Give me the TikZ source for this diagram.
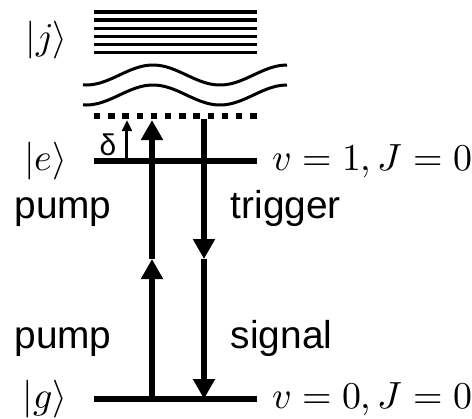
\documentclass[tikz,border=0pt]{standalone}
\usepackage{fontspec}
\setsansfont{Liberation Sans}
\usepackage{unicode-math}
\setmathfont{Latin Modern Math}
\usetikzlibrary{arrows.meta, positioning}

\begin{document}
\begin{tikzpicture}[
  x=0.25bp, y=-0.25bp,
  level/.style={line width=1.5bp},
  band/.style={line width=0.85bp},
  wave/.style={line width=0.75bp},
  virt/.style={line width=1.6bp, dash pattern=on 1.6bp off 1.95bp},
  beam/.style={line width=1.6bp, -{Triangle[length=5bp, width=5.25bp]}},
  detune/.style={line width=0.75bp, -{Triangle[length=2.75bp, width=2.4bp]}},
  state/.style={inner sep=0pt, font=\fontsize{9.5}{11}\selectfont},
  word/.style={inner sep=0pt, font=\sffamily\fontsize{9.75}{12}\selectfont}
]
\useasboundingbox (0,0) rectangle (472,419);

% level end points
\coordinate (eL) at (94,161);
\coordinate (eR) at (257,161);
\coordinate (gL) at (94,399);
\coordinate (gR) at (257,399);
\coordinate (vL) at (94,116);
\coordinate (vR) at (257,116);
\coordinate (jL) at (94,40);

% arrow end points
\coordinate (pumpG) at (152,399);
\coordinate (pumpM) at (152,259);
\coordinate (pumpV) at (152,120);
\coordinate (trigV) at (204,119);
\coordinate (trigM) at (204,259);
\coordinate (trigG) at (204,399);
\coordinate (detE) at (127,161);
\coordinate (detV) at (127,120);

% upper manifold
\foreach \k in {0,...,5}
  \draw[band] (94,{12+8.15*\k}) -- (257,{12+8.15*\k});
\draw[wave] plot[domain=83:287, samples=60] (\x, {75-10*cos(2.6866*(\x-153))});
\draw[wave] plot[domain=83:287, samples=60] (\x, {95-10*cos(2.6866*(\x-153))});

\draw[virt] (vL) -- (vR);
\draw[level] (eL) -- (eR);
\draw[level] (gL) -- (gR);

\node[state, left=6.5bp of jL] (jlab) {$|j\rangle$};
\node[state, left=6.5bp of eL] (elab) {$|e\rangle$};
\node[state, left=6.5bp of gL] (glab) {$|g\rangle$};
\node[state, right=3.75bp of eR] (eq) {$v = 1, J = 0$};
\node[state, right=3.75bp of gR] (gq) {$v = 0, J = 0$};

\node[word, anchor=base] (pumpup) at (63,218) {pump};
\node[word, anchor=base] (pumplo) at (63,348) {pump};
\node[word, anchor=base west] (trig) at (230,218) {trigger};
\node[word, anchor=base west] (sig) at (230,348) {signal};
\node[inner sep=0pt, font=\sffamily\fontsize{7.5}{9}\selectfont] (del) at (108,145) {δ};

\draw[beam] (pumpG) -- (pumpM);
\draw[beam] (pumpM) -- (pumpV);
\draw[beam] (trigV) -- (trigM);
\draw[beam] (trigM) -- (trigG);
\draw[detune] (detE) -- (detV);
\end{tikzpicture}
\end{document}
